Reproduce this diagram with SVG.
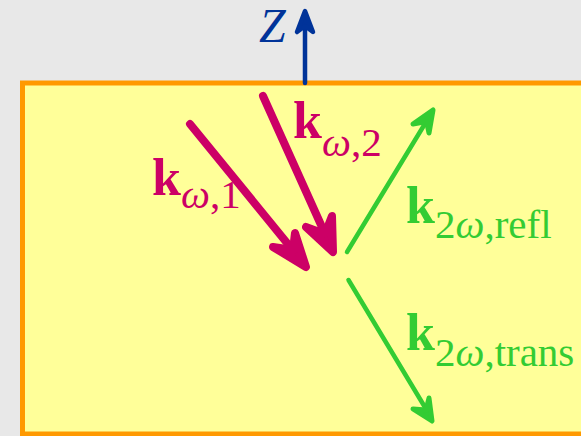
<svg xmlns="http://www.w3.org/2000/svg" width="581" height="436" viewBox="0 0 581 436">
<style>
.lbl{font-family:"Liberation Serif","Times New Roman",serif}
.k{font-weight:bold;font-size:52px}
.sub{font-size:41px}
.it{font-style:italic}
.mag{fill:#CC0066}
.grn{fill:#33CC33}
.a{fill:none;stroke-linecap:round;stroke-linejoin:round}
.h{stroke-linecap:round;stroke-linejoin:round}
.am{stroke:#CC0066;stroke-width:8}
.hm{fill:#CC0066;stroke:#CC0066;stroke-width:8}
.ag{stroke:#33CC33;stroke-width:4.5}
.hg{fill:#33CC33;stroke:#33CC33;stroke-width:5}
.az{stroke:#003399;stroke-width:4.5}
.hz{fill:#003399;stroke:#003399;stroke-width:4.5}
</style>
<rect x="0" y="0" width="581" height="436" fill="#E8E8E8"/>
<g id="medium">
<rect x="22.5" y="83" width="600" height="351" fill="#FFFF99" stroke="#FF9900" stroke-width="5"/>
</g>
<g id="connectors">
<g id="z-axis">
<line class="a az" x1="305" y1="83" x2="305" y2="20"/>
<polygon class="h hz" points="297,32 305,11 313,32 305,26"/>
</g>
<g id="k-omega-1">
<line class="a am" x1="190" y1="124" x2="296" y2="254"/>
<polygon class="h hm" points="273,247 306,267 295,233 293,250"/>
</g>
<g id="k-omega-2">
<line class="a am" x1="263" y1="96" x2="326" y2="236"/>
<polygon class="h hm" points="306,227 333,252 332,216 325,234"/>
</g>
<g id="k-2omega-refl">
<line class="a ag" x1="347" y1="252" x2="426" y2="122"/>
<polygon class="h hg" points="413,124 433,110 429,133 426.5,121.5"/>
</g>
<g id="k-2omega-trans">
<line class="a ag" x1="348.5" y1="280" x2="426" y2="409"/>
<polygon class="h hg" points="413,409 432,421 429,398 426,410"/>
</g>
</g>
<g id="label-z">
<text class="lbl it" x="259" y="42" font-size="48" fill="#003399">Z</text>
</g>
<g id="label-k1">
<text class="lbl mag" x="152" y="195"><tspan class="k">k</tspan><tspan class="sub it" dy="13">ω</tspan><tspan class="sub">,1</tspan></text>
</g>
<g id="label-k2">
<text class="lbl mag" x="293" y="138"><tspan class="k">k</tspan><tspan class="sub it" dy="18">ω</tspan><tspan class="sub">,2</tspan></text>
</g>
<g id="label-refl">
<text class="lbl grn" x="406" y="223"><tspan class="k">k</tspan><tspan class="sub" dy="15">2</tspan><tspan class="sub it">ω</tspan><tspan class="sub">,refl</tspan></text>
</g>
<g id="label-trans">
<text class="lbl grn" x="406" y="350"><tspan class="k">k</tspan><tspan class="sub" dy="16">2</tspan><tspan class="sub it">ω</tspan><tspan class="sub">,trans</tspan></text>
</g>
</svg>
